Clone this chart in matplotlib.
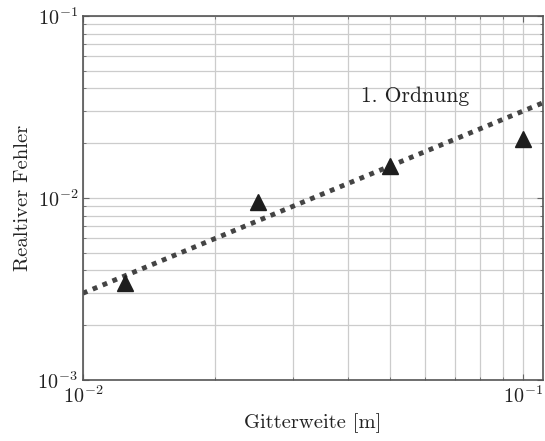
import matplotlib
matplotlib.use("Agg")
import matplotlib.pyplot as plt

plt.rcParams["font.family"] = ["cmr10"]
plt.rcParams["mathtext.fontset"] = "cm"
plt.rcParams["axes.formatter.use_mathtext"] = True
plt.rcParams["axes.unicode_minus"] = False

# Grid spacing h [m] and relative error
h = [0.0125, 0.025, 0.05, 0.1]
err = [0.00340, 0.00950, 0.01500, 0.02120]

# First-order reference line
ref_h = [0.01, 0.111]
ref_err = [0.0030, 0.0333]

fig = plt.figure(figsize=(5.45, 4.41), dpi=100)
ax = fig.add_axes([0.152, 0.138, 0.844, 0.826])

ax.set_xscale("log")
ax.set_yscale("log")
ax.set_xlim(0.01, 0.111)
ax.set_ylim(1e-3, 1e-1)

ax.grid(True, which="both", color="#cccccc", linewidth=0.9)
ax.set_axisbelow(True)

ax.plot(ref_h, ref_err, color="#444444", linewidth=3.5,
        linestyle=(0, (1, 1.2)), dash_capstyle="butt", zorder=2)
ax.plot(h, err, linestyle="none", marker="^", markersize=11.5,
        color="#1e1e1e", zorder=3)

ax.text(0.0428, 0.0337, "1. Ordnung", fontsize=15.5, color="#222222")

ax.set_xlabel("Gitterweite [m]", fontsize=14.8, color="#222222", labelpad=5)
ax.set_ylabel("Realtiver Fehler", fontsize=14.8, color="#222222")

for s in ax.spines.values():
    s.set_color("#555555")
    s.set_linewidth(1.2)

ax.tick_params(which="both", direction="in", top=True, right=True,
               colors="#666666", labelcolor="#222222", labelsize=14.5)
ax.tick_params(which="major", length=4)
ax.tick_params(which="minor", length=2.5)

fig.savefig("out.png", dpi=100)
